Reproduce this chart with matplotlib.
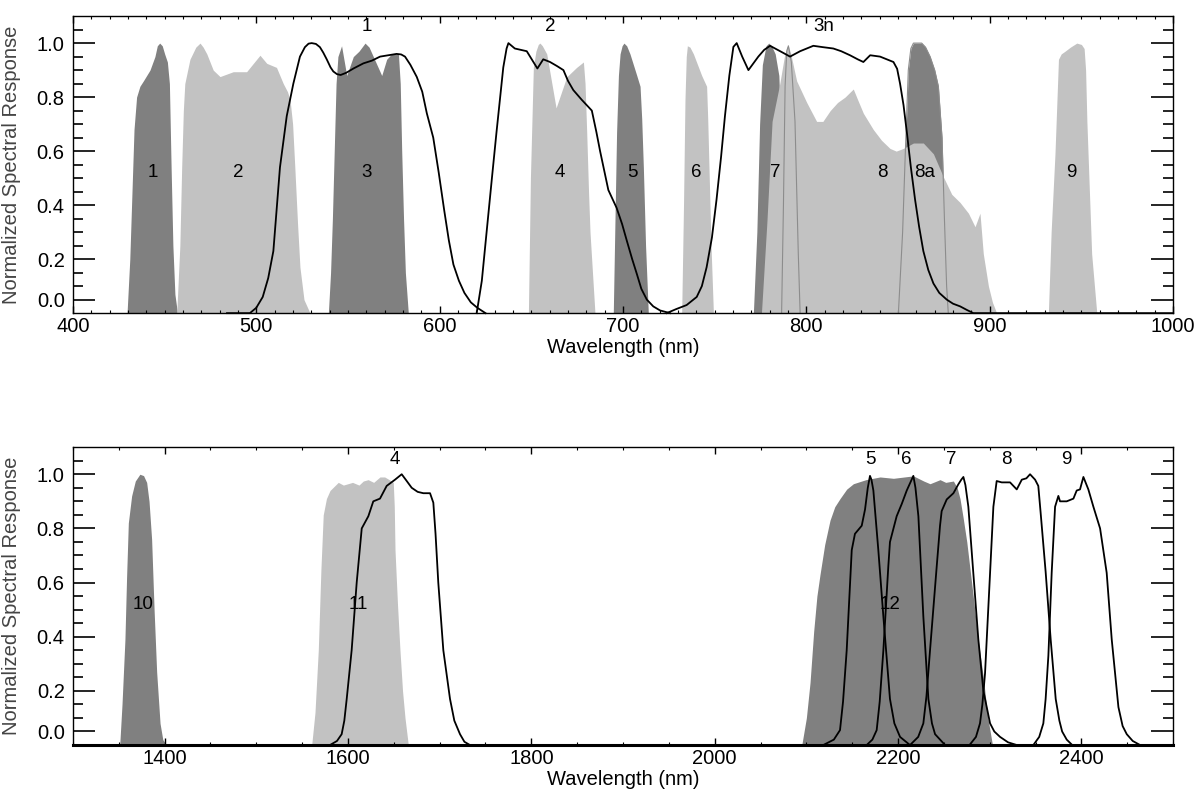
import matplotlib
matplotlib.use("Agg")
import matplotlib.pyplot as plt
import numpy as np
from matplotlib.ticker import FixedLocator

plt.rcParams["font.family"] = ["Liberation Sans", "DejaVu Sans"]

DARK = "#808080"
LIGHT = "#c2c2c2"

# ---- VNIR panel: Sentinel-2 MSI bands (filled) ----
b1_wl = [429.5, 431.0, 432.2, 433.3, 434.7, 436.5, 438.4, 442.0, 444.7, 446.0, 447.3, 448.7,
         450.0, 451.5, 452.6, 453.5, 454.5, 455.6, 457.0]
b1_r = [0.0, 0.2, 0.45, 0.68, 0.80, 0.84, 0.86, 0.90, 0.95, 0.99, 1.0, 0.99,
        0.96, 0.93, 0.85, 0.55, 0.25, 0.07, 0.0]
b2_wl = [456.6, 458.3, 459.3, 460.2, 461.0, 463.8, 467.0, 469.3, 471.0, 473.0, 476.5, 480.2,
         487.4, 494.7, 498.4, 502.0, 505.7, 511.0, 514.7, 517.0, 518.4, 519.8, 521.0, 522.5,
         523.8, 526.0, 529.3]
b2_r = [0.0, 0.25, 0.54, 0.75, 0.85, 0.94, 0.985, 1.0, 0.985, 0.96, 0.90, 0.876,
        0.894, 0.894, 0.925, 0.955, 0.925, 0.91, 0.85, 0.82, 0.79, 0.70, 0.54, 0.33,
        0.17, 0.05, 0.0]
b3_wl = [539.3, 540.5, 541.5, 542.5, 543.5, 544.5, 546.5, 549.3, 552.9, 556.0, 559.3, 561.5,
         563.8, 568.4, 571.1, 573.8, 577.5, 578.5, 579.3, 580.3, 581.3, 582.9]
b3_r = [0.0, 0.15, 0.35, 0.6, 0.85, 0.95, 0.99, 0.88, 0.95, 0.97, 1.00, 0.985,
        0.95, 0.88, 0.94, 0.96, 0.96, 0.85, 0.6, 0.35, 0.15, 0.0]
b4_wl = [648.4, 649.5, 651.1, 652.5, 653.8, 654.7, 656.0, 658.4, 663.5, 669.3, 674.7, 678.4,
         679.3, 680.2, 681.2, 682.0, 684.7]
b4_r = [0.0, 0.5, 0.91, 0.97, 0.995, 1.0, 0.99, 0.96, 0.76, 0.875, 0.91, 0.93,
        0.85, 0.67, 0.45, 0.3, 0.0]
b5_wl = [694.7, 695.5, 696.5, 697.5, 698.4, 699.5, 700.5, 702.0, 703.8, 707.5, 709.3, 710.2,
         711.1, 712.3, 713.8]
b5_r = [0.0, 0.3, 0.67, 0.88, 0.96, 0.99, 1.0, 0.99, 0.96, 0.88, 0.84, 0.72,
        0.54, 0.25, 0.0]
b6_wl = [732.0, 733.0, 733.8, 734.5, 735.1, 736.5, 738.4, 742.9, 745.6, 746.2, 746.9, 748.0, 749.3]
b6_r = [0.0, 0.4, 0.79, 0.95, 0.99, 0.985, 0.96, 0.88, 0.84, 0.72, 0.54, 0.25, 0.0]
b7_wl = [771.1, 773.0, 774.5, 776.0, 778.0, 779.5, 781.0, 783.0, 785.0, 786.5, 788.0, 789.0]
b7_r = [0.0, 0.3, 0.7, 0.92, 0.99, 1.0, 0.99, 0.96, 0.88, 0.6, 0.2, 0.0]
b8_wl = [775.5, 778.5, 781.3, 785.5, 788.0, 789.3, 790.2, 791.5, 794.7, 800.2, 805.6, 809.0,
         813.0, 817.0, 821.1, 825.6, 828.0, 831.1, 836.5, 841.0, 845.6, 849.0, 852.9, 858.4,
         863.8, 869.3, 874.7, 879.3, 883.8, 888.4, 892.0, 894.7, 896.5, 899.3, 901.5, 903.8]
b8_r = [0.0, 0.34, 0.71, 0.85, 0.95, 0.985, 0.99, 0.96, 0.86, 0.78, 0.71, 0.71,
        0.75, 0.78, 0.80, 0.83, 0.79, 0.74, 0.68, 0.64, 0.61, 0.60, 0.61, 0.63,
        0.63, 0.59, 0.505, 0.44, 0.41, 0.37, 0.32, 0.37, 0.22, 0.10, 0.04, 0.0]
b8a_wl = [850.2, 852.5, 854.0, 855.6, 857.0, 858.4, 860.5, 862.9, 865.0, 867.5, 870.0, 872.0,
          874.0, 875.3, 876.5, 877.4]
b8a_r = [0.0, 0.3, 0.6, 0.9, 0.98, 1.0, 1.0, 1.0, 0.985, 0.95, 0.9, 0.84,
         0.65, 0.35, 0.1, 0.0]
b9_wl = [932.0, 933.5, 935.6, 937.5, 939.0, 941.1, 944.0, 947.5, 950.0, 951.5, 952.3, 953.0,
         955.6, 958.4]
b9_r = [0.0, 0.3, 0.59, 0.94, 0.96, 0.97, 0.985, 1.0, 0.995, 0.98, 0.9, 0.71,
        0.22, 0.0]
# thin grey outline near 790 nm
edge_wl = [786.5, 787.5, 788.4, 789.3, 790.2, 791.8, 793.8, 795.6, 796.6]
edge_r = [0.0, 0.4, 0.84, 0.97, 0.99, 0.93, 0.71, 0.22, 0.0]

# ---- VNIR panel: ASTER bands (black lines) ----
a1_wl = [484.0, 496.5, 500.0, 503.5, 506.5, 509.3, 512.9, 516.6, 520.2, 523.8, 526.5, 528.5,
         530.2, 532.5, 534.7, 536.5, 538.4, 540.5, 542.0, 544.0, 546.0, 549.0, 553.0, 558.4,
         563.0, 567.5, 572.0, 576.5, 579.0, 581.1, 584.0, 587.5, 590.5, 593.0, 596.5, 599.5,
         602.5, 605.0, 607.5, 610.5, 613.5, 617.0, 620.5, 625.0]
a1_r = [0.0, 0.0, 0.02, 0.06, 0.13, 0.23, 0.54, 0.73, 0.85, 0.95, 0.985, 0.998,
        1.0, 0.997, 0.985, 0.965, 0.94, 0.91, 0.895, 0.885, 0.882, 0.89, 0.906, 0.925,
        0.935, 0.95, 0.955, 0.96, 0.958, 0.95, 0.92, 0.875, 0.82, 0.74, 0.65, 0.52,
        0.38, 0.27, 0.18, 0.12, 0.075, 0.04, 0.02, 0.0]
a2_wl = [620.2, 623.0, 625.6, 628.5, 631.0, 634.7, 636.5, 637.5, 641.0, 647.5, 653.3, 656.5,
         660.2, 664.0, 667.5, 670.0, 672.9, 677.5, 683.0, 685.5, 687.5, 692.0, 696.5, 699.5,
         702.0, 705.0, 707.5, 710.0, 713.0, 716.5, 720.2, 725.7]
a2_r = [0.0, 0.12, 0.3, 0.5, 0.67, 0.91, 0.98, 1.0, 0.98, 0.97, 0.906, 0.94,
        0.93, 0.915, 0.90, 0.86, 0.826, 0.79, 0.75, 0.67, 0.6, 0.456, 0.39, 0.33,
        0.27, 0.2, 0.146, 0.09, 0.05, 0.025, 0.01, 0.0]
a3n_wl = [723.8, 729.0, 734.7, 740.2, 743.0, 745.6, 748.5, 751.0, 753.5, 755.6, 758.0, 760.2,
          762.0, 765.0, 768.4, 773.8, 777.0, 780.2, 785.7, 791.1, 796.6, 803.8, 809.0, 814.7,
          819.0, 823.8, 828.0, 831.1, 834.8, 840.2, 847.5, 849.5, 851.1, 853.0, 854.8, 857.0,
          859.3, 861.5, 863.8, 866.5, 869.3, 872.5, 876.6, 880.0, 883.9, 887.5, 891.1, 1000.0]
a3n_r = [0.0, 0.015, 0.03, 0.06, 0.1, 0.17, 0.28, 0.42, 0.58, 0.73, 0.88, 0.986,
         1.0, 0.95, 0.9, 0.95, 0.975, 0.99, 0.97, 0.95, 0.97, 0.99, 0.985, 0.98,
         0.97, 0.955, 0.94, 0.93, 0.955, 0.95, 0.93, 0.905, 0.85, 0.77, 0.67, 0.54,
         0.42, 0.32, 0.23, 0.16, 0.11, 0.075, 0.05, 0.035, 0.025, 0.012, 0.0, 0.0]

# ---- SWIR panel: Sentinel-2 ----
b10_wl = [1351.0, 1353.5, 1356.7, 1358.5, 1360.4, 1364.0, 1368.0, 1373.0, 1377.0, 1380.4,
          1383.0, 1385.8, 1388.5, 1391.3, 1395.0, 1398.0, 1402.0]
b10_r = [0.0, 0.15, 0.39, 0.62, 0.82, 0.92, 0.975, 1.0, 0.995, 0.97,
         0.9, 0.76, 0.5, 0.27, 0.08, 0.02, 0.0]
b11_wl = [1560.4, 1564.0, 1567.6, 1570.5, 1573.0, 1576.5, 1580.4, 1589.4, 1595.0, 1605.0,
          1612.0, 1616.7, 1622.0, 1628.0, 1634.9, 1640.0, 1645.0, 1649.4, 1650.5, 1651.3,
          1654.0, 1656.7, 1659.5, 1662.2, 1665.8]
b11_r = [0.0, 0.12, 0.35, 0.65, 0.85, 0.91, 0.94, 0.97, 0.96, 0.97,
         0.96, 0.975, 0.98, 0.97, 0.99, 0.99, 0.98, 0.97, 0.88, 0.72,
         0.52, 0.35, 0.2, 0.1, 0.0]
b12_wl = [2095.0, 2100.0, 2104.0, 2108.0, 2111.5, 2114.9, 2120.0, 2125.8, 2131.0, 2136.7,
          2144.0, 2151.3, 2165.0, 2180.4, 2195.0, 2216.7, 2228.0, 2234.9, 2245.8, 2252.0,
          2260.4, 2264.5, 2267.6, 2271.0, 2275.0, 2282.0, 2287.0, 2293.0, 2298.0, 2303.0]
b12_r = [0.0, 0.1, 0.23, 0.42, 0.55, 0.63, 0.74, 0.83, 0.88, 0.91,
         0.945, 0.965, 0.98, 0.99, 0.985, 0.994, 0.975, 0.965, 0.98, 0.97,
         0.975, 0.95, 0.91, 0.84, 0.75, 0.55, 0.4, 0.25, 0.1, 0.0]

# ---- SWIR panel: ASTER ----
a4_wl = [1300.0, 1580.4, 1588.0, 1593.1, 1596.0, 1598.6, 1604.0, 1609.5, 1615.0, 1622.2,
         1627.6, 1634.9, 1642.2, 1651.3, 1658.6, 1663.0, 1669.5, 1676.0, 1682.2, 1689.5,
         1693.1, 1695.5, 1698.5, 1704.0, 1711.3, 1716.0, 1722.2, 1727.0, 1733.0]
a4_r = [0.0, 0.0, 0.015, 0.04, 0.09, 0.17, 0.35, 0.6, 0.8, 0.845,
        0.90, 0.91, 0.957, 0.98, 1.0, 0.98, 0.95, 0.935, 0.93, 0.93,
        0.895, 0.78, 0.6, 0.35, 0.17, 0.09, 0.04, 0.012, 0.0]
a5_wl = [2118.5, 2130.0, 2136.7, 2140.0, 2144.0, 2149.5, 2153.0, 2160.4, 2164.0, 2167.0,
         2169.4, 2171.0, 2173.1, 2178.5, 2184.0, 2191.2, 2196.0, 2202.2, 2213.0]
a5_r = [0.0, 0.02, 0.055, 0.16, 0.35, 0.72, 0.78, 0.81, 0.87, 0.95,
        0.994, 0.98, 0.94, 0.72, 0.475, 0.17, 0.08, 0.03, 0.0]
a6_wl = [2165.8, 2172.0, 2176.7, 2180.0, 2184.0, 2189.4, 2191.2, 2198.5, 2204.0, 2209.5,
         2213.5, 2216.7, 2219.0, 2222.2, 2227.6, 2233.1, 2237.0, 2240.4, 2251.3]
a6_r = [0.0, 0.02, 0.055, 0.16, 0.35, 0.66, 0.75, 0.845, 0.89, 0.94,
        0.97, 0.994, 0.95, 0.845, 0.475, 0.17, 0.08, 0.04, 0.0]
a7_wl = [2213.1, 2222.0, 2227.6, 2231.0, 2234.9, 2242.2, 2245.8, 2247.6, 2253.1, 2260.4,
         2265.8, 2269.0, 2271.3, 2273.5, 2276.7, 2282.1, 2287.6, 2293.1, 2300.4, 2305.0,
         2311.3, 2320.0, 2329.5]
a7_r = [0.0, 0.03, 0.08, 0.18, 0.35, 0.66, 0.81, 0.864, 0.907, 0.93,
        0.963, 0.98, 0.99, 0.96, 0.88, 0.636, 0.39, 0.20, 0.08, 0.05,
        0.03, 0.01, 0.0]
a8_wl = [2278.0, 2285.0, 2289.4, 2292.0, 2294.9, 2300.4, 2304.0, 2307.6, 2313.1, 2322.2,
         2329.5, 2335.0, 2340.0, 2344.0, 2349.5, 2353.0, 2355.5, 2361.0, 2366.5, 2372.0,
         2376.0, 2379.0, 2384.0, 2390.0]
a8_r = [0.0, 0.03, 0.08, 0.15, 0.265, 0.636, 0.88, 0.975, 0.97, 0.97,
        0.944, 0.98, 0.985, 1.0, 0.98, 0.957, 0.86, 0.64, 0.39, 0.17,
        0.09, 0.05, 0.02, 0.0]
a9_wl = [2347.6, 2354.0, 2358.5, 2361.0, 2364.0, 2367.6, 2371.3, 2374.9, 2376.7, 2384.0,
         2391.3, 2394.9, 2398.5, 2402.2, 2407.6, 2413.1, 2420.4, 2427.6, 2433.1, 2440.4,
         2445.0, 2449.5, 2456.0, 2464.0, 2500.0]
a9_r = [0.0, 0.03, 0.08, 0.17, 0.33, 0.636, 0.88, 0.92, 0.90, 0.90,
        0.91, 0.94, 0.944, 0.99, 0.944, 0.88, 0.80, 0.636, 0.39, 0.14,
        0.07, 0.04, 0.015, 0.0, 0.0]

# band labels: (text, wavelength)
msi_top_labels = [("1", 443.6), ("2", 490.2), ("3", 560.2), ("4", 665.3), ("5", 705.3),
                  ("6", 739.8), ("7", 782.9), ("8", 841.6), ("8a", 864.7), ("9", 944.7)]
aster_top_labels = [("1", 560.2), ("2", 660.2), ("3n", 809.3)]
msi_bot_labels = [("10", 1376.7), ("11", 1611.3), ("12", 2191.2)]
aster_bot_labels = [("4", 1651.3), ("5", 2169.4), ("6", 2209.5), ("7", 2258.5),
                    ("8", 2318.5), ("9", 2384.0)]


def style_axes(ax, xlim, xmajor, xminor):
    ax.set_xlim(*xlim)
    ax.set_ylim(0, 1.1)
    ax.xaxis.set_major_locator(FixedLocator(xmajor))
    ax.xaxis.set_minor_locator(FixedLocator(xminor))
    ymaj = [0.05, 0.2, 0.4, 0.6, 0.8, 1.0]
    ax.yaxis.set_major_locator(FixedLocator(ymaj))
    ax.set_yticklabels(["0.0", "0.2", "0.4", "0.6", "0.8", "1.0"])
    ymin = [v for v in np.round(np.arange(0.1, 1.06, 0.05), 2) if v not in ymaj]
    ax.yaxis.set_minor_locator(FixedLocator(ymin))
    ax.tick_params(axis="both", which="both", direction="in", top=True, right=True,
                   labelsize=14.5, color="black")
    ax.tick_params(axis="y", which="major", length=16, width=1.2, pad=6)
    ax.tick_params(axis="y", which="minor", length=7, width=1.2)
    ax.tick_params(axis="x", which="major", length=5, width=1.0, pad=3)
    ax.tick_params(axis="x", which="minor", length=2.5, width=0.8)
    for sp in ax.spines.values():
        sp.set_linewidth(1.0)
    ax.set_xlabel("Wavelength (nm)", fontsize=14.5, labelpad=1)
    ax.set_ylabel("Normalized Spectral Response", fontsize=14.5, color="#444444")
    ax.yaxis.set_label_coords(-0.047, 0.5)


fig = plt.figure(figsize=(12.04, 8.05), dpi=100)
ax1 = fig.add_axes([0.0606, 0.611, 0.9137, 0.369])
ax2 = fig.add_axes([0.0606, 0.0745, 0.9137, 0.370])

# top panel fills: dark bands first, light bands over them
for wl, r in [(b1_wl, b1_r), (b3_wl, b3_r), (b5_wl, b5_r), (b7_wl, b7_r), (b8a_wl, b8a_r)]:
    ax1.fill_between(wl, r, 0, color=DARK, lw=0)
for wl, r in [(b2_wl, b2_r), (b4_wl, b4_r), (b6_wl, b6_r), (b8_wl, b8_r), (b9_wl, b9_r)]:
    ax1.fill_between(wl, r, 0, color=LIGHT, lw=0)
ax1.plot(b8a_wl, b8a_r, color="#8c8c8c", lw=0.8)
ax1.plot(edge_wl, edge_r, color="#8c8c8c", lw=0.8)
for wl, r in [(a1_wl, a1_r), (a2_wl, a2_r), (a3n_wl, a3n_r)]:
    ax1.plot(wl, r, color="black", lw=1.3, clip_on=False)

for txt, x in msi_top_labels:
    ax1.text(x, 0.52, txt, ha="center", va="center", fontsize=13.5)
for txt, x in aster_top_labels:
    ax1.text(x, 1.06, txt, ha="center", va="center", fontsize=13.5)

style_axes(ax1, (400, 1000), np.arange(400, 1001, 100), np.arange(400, 1001, 10))

# bottom panel
ax2.fill_between(b10_wl, b10_r, 0, color=DARK, lw=0)
ax2.fill_between(b12_wl, b12_r, 0, color=DARK, lw=0)
ax2.fill_between(b11_wl, b11_r, 0, color=LIGHT, lw=0)
for wl, r in [(a4_wl, a4_r), (a5_wl, a5_r), (a6_wl, a6_r), (a7_wl, a7_r),
              (a8_wl, a8_r), (a9_wl, a9_r)]:
    ax2.plot(wl, r, color="black", lw=1.3, clip_on=False)

for txt, x in msi_bot_labels:
    ax2.text(x, 0.52, txt, ha="center", va="center", fontsize=13.5)
for txt, x in aster_bot_labels:
    ax2.text(x, 1.055, txt, ha="center", va="center", fontsize=13.5)

style_axes(ax2, (1300, 2500), np.arange(1400, 2401, 200), np.arange(1300, 2501, 50))
ax2.spines["bottom"].set_linewidth(2.2)

fig.savefig("out.png", dpi=100)
